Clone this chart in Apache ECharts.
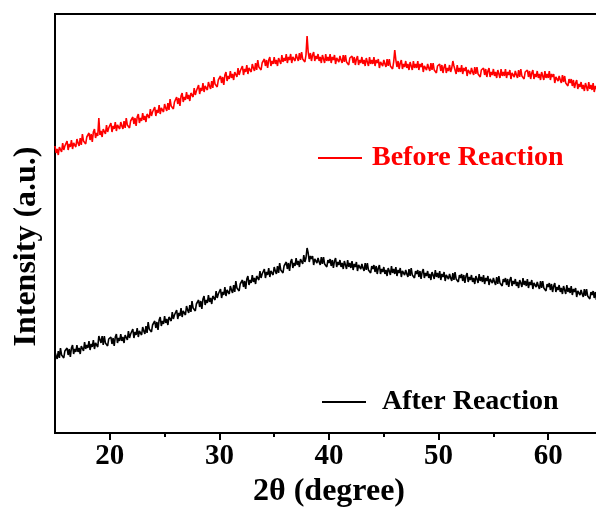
<!DOCTYPE html>
<html>
<head>
<meta charset="utf-8">
<script src="https://cdn.jsdelivr.net/npm/echarts@6/dist/echarts.min.js"></script>
<style>html,body{margin:0;padding:0;background:#fff;}#chart{width:596px;height:507px;}</style>
</head>
<body>
<div id="chart"></div>
<script>
// 2θ sampling (degrees)
var thetaStart = 15;
var thetaStep = 0.1;
var majorTicks = [20, 30, 40, 50, 60];
var minorTicks = [25, 35, 45, 55];
var seriesNames = ['Before Reaction', 'After Reaction'];

// Intensity (a.u.), one row per degree (15.0 ... 64.9, then 65.0)
var beforeReaction = [
287,280,284,278,286,285,281,290,283,287,
285,292,283,289,286,293,284,290,292,286,
294,290,287,295,288,299,292,294,289,296,
296,300,293,299,291,301,304,295,300,297,
315,298,302,296,304,303,299,308,301,305,
303,310,301,307,304,311,302,308,310,304,
311,307,304,312,305,315,308,310,305,312,
312,316,309,315,307,316,319,310,315,312,
320,313,317,311,319,319,315,324,317,321,
319,326,317,323,320,328,319,325,327,321,
329,325,322,330,323,334,327,329,324,331,
332,336,329,335,327,337,340,331,336,333,
341,334,338,332,340,340,336,345,338,342,
341,348,339,345,342,350,341,347,349,343,
351,347,344,352,345,356,349,351,346,353,
353,357,350,356,348,358,361,352,357,354,
362,355,359,353,361,360,356,365,358,362,
360,367,358,364,361,368,359,365,367,361,
369,365,362,370,363,373,366,368,363,370,
370,374,367,373,365,373,376,367,372,369,
376,369,373,367,375,373,369,378,371,375,
372,379,370,376,373,379,370,376,378,372,
379,375,372,380,373,381,374,376,371,378,
397,381,374,380,372,378,381,372,377,374,
379,372,376,370,378,374,370,379,372,376,
372,379,370,376,373,378,369,375,377,371,
377,373,370,378,371,378,371,373,368,375,
373,377,370,376,368,374,377,368,373,370,
376,369,373,367,375,371,367,376,369,373,
369,376,367,373,370,374,365,371,373,367,
373,369,366,374,367,374,367,369,364,371,
383,373,366,372,364,370,373,364,369,366,
372,365,369,363,371,367,363,372,365,369,
365,372,363,369,366,370,361,367,369,363,
369,365,362,370,363,370,363,365,360,367,
365,369,362,368,360,366,369,360,365,362,
368,361,365,372,367,363,359,368,361,365,
361,368,359,365,362,366,357,363,365,359,
365,361,358,366,359,366,359,361,356,363,
361,365,358,364,356,362,365,356,361,358,
364,357,361,355,363,359,355,364,357,361,
357,364,355,361,358,363,354,360,362,356,
362,358,355,363,356,364,357,359,354,361,
359,363,356,362,354,360,363,354,359,356,
362,355,359,353,361,357,353,362,355,359,
355,362,353,359,356,359,350,356,358,352,
357,353,350,358,351,357,350,352,347,354,
350,354,347,353,345,350,353,344,349,346,
351,344,348,342,350,346,342,351,344,348,
343,350,341,347,344,348,339,345,347,341,
344
];
var afterReaction = [
81,77,74,82,75,85,78,80,75,82,
81,85,78,84,76,85,88,79,84,81,
88,81,85,79,87,86,82,91,84,88,
85,92,83,89,86,93,84,90,92,86,
97,96,90,97,88,97,90,92,87,94,
92,96,89,95,87,96,99,90,95,92,
99,92,96,90,98,97,93,102,95,99,
97,104,95,101,98,105,96,102,104,98,
106,102,99,107,100,111,104,106,101,108,
108,112,105,111,103,113,116,107,112,109,
117,110,114,108,116,116,112,121,114,118,
116,123,114,120,117,125,116,122,124,118,
127,123,120,128,121,132,125,127,122,129,
129,133,126,132,124,134,137,128,133,130,
138,131,135,129,137,137,133,142,135,139,
137,144,135,141,138,146,137,143,145,139,
147,143,140,148,141,152,145,147,142,149,
149,153,146,152,144,154,157,148,153,150,
158,151,155,149,157,157,153,162,155,159,
157,164,155,161,158,165,156,162,164,158,
166,162,159,167,160,170,163,165,160,167,
167,171,164,170,162,171,174,165,170,167,
175,168,172,166,174,173,169,178,171,175,
185,180,171,177,174,177,168,174,176,170,
175,171,168,176,169,176,169,171,166,173,
170,174,167,173,165,172,175,166,171,168,
173,166,170,164,172,168,164,173,166,170,
165,172,163,169,166,171,162,168,170,164,
169,165,162,170,163,170,163,165,160,167,
164,168,161,167,159,165,168,159,164,161,
166,159,163,157,165,162,158,167,160,164,
159,166,157,163,160,165,156,162,164,158,
163,159,156,164,157,165,158,160,155,162,
159,163,156,162,154,161,164,155,160,157,
162,155,159,153,161,158,154,163,156,160,
155,162,153,159,156,161,152,158,160,154,
159,155,152,160,153,161,154,156,151,158,
155,159,152,158,150,157,160,151,156,153,
158,151,155,149,157,154,150,159,152,156,
151,158,149,155,152,157,148,154,156,150,
155,151,148,156,149,157,150,152,147,154,
151,155,148,154,146,153,156,147,152,149,
154,147,151,145,153,150,146,155,148,152,
147,154,145,151,148,153,144,150,152,146,
151,147,144,152,145,152,145,147,142,149,
146,150,143,149,141,147,150,141,146,143,
148,141,145,139,147,143,139,148,141,145,
140,147,138,144,141,145,136,142,144,138,
143,139,136,144,137,144,137,139,134,141,
138,142,135,141,133,140,143,134,139,136,
137
];

function pairs(arr) {
  return arr.map(function (v, i) {
    return [+(thetaStart + i * thetaStep).toFixed(2), v];
  });
}

var serif = '"Liberation Serif","Times New Roman",serif';
var chart = echarts.init(document.getElementById('chart'));
chart.setOption({
  animation: false,
  backgroundColor: '#fff',
  grid: {
    left: 55, top: 14, width: 548, height: 419,
    outerBoundsMode: 'none', containLabel: false,
    show: true, borderColor: '#000', borderWidth: 2, backgroundColor: 'transparent'
  },
  legend: [
    {
      data: [seriesNames[0]], left: 318, top: 144, padding: 0, icon: 'rect',
      itemWidth: 44, itemHeight: 2,
      textStyle: { color: '#ff0000', fontFamily: serif, fontWeight: 'bold', fontSize: 28, padding: [0, 0, 0, 5] }
    },
    {
      data: [seriesNames[1]], left: 322, top: 388, padding: 0, icon: 'rect',
      itemWidth: 44, itemHeight: 2,
      textStyle: { color: '#000', fontFamily: serif, fontWeight: 'bold', fontSize: 28, padding: [0, 0, 0, 11] }
    }
  ],
  xAxis: [
    {
      type: 'value', min: 15, max: 65, interval: 5,
      name: '2θ (degree)', nameLocation: 'middle', nameGap: 40,
      nameTextStyle: { fontFamily: serif, fontWeight: 'bold', fontSize: 32, color: '#000' },
      axisLine: { show: true, lineStyle: { color: '#000', width: 2 } },
      axisTick: { show: true, length: 7, customValues: majorTicks, lineStyle: { color: '#000', width: 2 } },
      axisLabel: {
        fontFamily: serif, fontWeight: 'bold', fontSize: 29, color: '#000', margin: 9,
        customValues: majorTicks
      },
      splitLine: { show: false }
    },
    {
      type: 'value', min: 15, max: 65, interval: 5, position: 'bottom',
      axisLine: { show: false },
      axisTick: { show: true, length: 4, customValues: minorTicks, lineStyle: { color: '#000', width: 2 } },
      axisLabel: { show: false },
      splitLine: { show: false }
    }
  ],
  yAxis: {
    type: 'value', min: 0, max: 419,
    name: 'Intensity (a.u.)', nameLocation: 'middle', nameGap: 12,
    nameTextStyle: { fontFamily: serif, fontWeight: 'bold', fontSize: 32, color: '#000', padding: [0, 46, 0, 0] },
    axisLine: { show: true, lineStyle: { color: '#000', width: 2 } },
    axisTick: { show: false },
    axisLabel: { show: false },
    splitLine: { show: false }
  },
  series: [
    {
      name: seriesNames[0], type: 'line', data: pairs(beforeReaction), xAxisIndex: 0,
      showSymbol: false, symbol: 'none', lineStyle: { color: '#ff0000', width: 1.6 },
      itemStyle: { color: '#ff0000' }
    },
    {
      name: seriesNames[1], type: 'line', data: pairs(afterReaction), xAxisIndex: 0,
      showSymbol: false, symbol: 'none', lineStyle: { color: '#000', width: 1.6 },
      itemStyle: { color: '#000' }
    }
  ]
});
</script>
</body>
</html>
